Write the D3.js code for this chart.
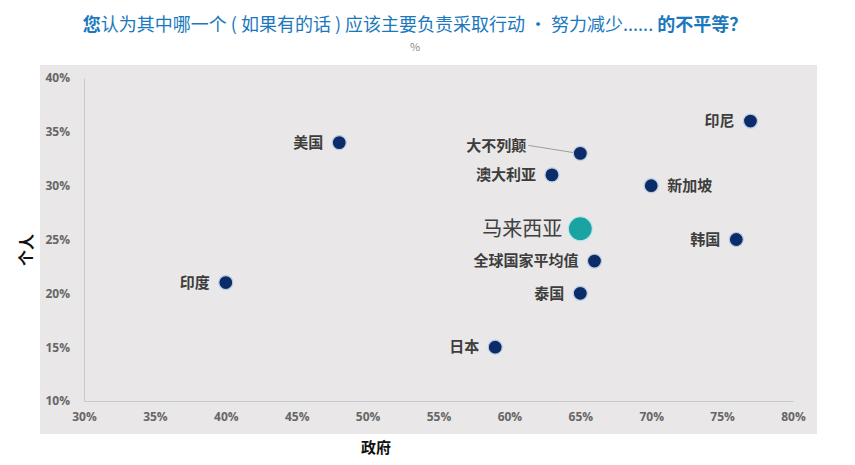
<!DOCTYPE html>
<html><head><meta charset="utf-8">
<script src="https://cdn.jsdelivr.net/npm/d3@7"></script>
<style>body{margin:0;background:#fff;}svg{display:block;font-family:"Noto Sans CJK SC","Noto Sans",sans-serif;}</style>
</head><body>
<script>
const countries = ["美国","印度","日本","泰国","全球国家平均值","马来西亚","澳大利亚","大不列颠","新加坡","印尼","韩国"];
const government = [48,40,59,65,66,65,63,65,70,77,76];
const individual = [34,21,15,20,23,26,31,33,30,36,25];
const highlight = "马来西亚";
const xTicks = [30,35,40,45,50,55,60,65,70,75,80];
const yTicks = [10,15,20,25,30,35,40];

const W=855,H=465;
const svg=d3.select("body").append("svg").attr("width",W).attr("height",H);
const m={l:84,r:62,t:78,b:64};
const x=d3.scaleLinear().domain([30,80]).range([m.l,W-m.r]);
const y=d3.scaleLinear().domain([10,40]).range([H-m.b,m.t]);

svg.append("rect").attr("x",40).attr("y",65).attr("width",777).attr("height",369).attr("fill","#e9e7e7");

const xa=svg.append("g").attr("transform",`translate(0,${y(10)})`).call(d3.axisBottom(x).tickValues(xTicks).tickFormat(d=>d+"%").tickSize(0).tickPadding(11));
const ya=svg.append("g").attr("transform",`translate(${x(30)},0)`).call(d3.axisLeft(y).tickValues(yTicks).tickFormat(d=>d+"%").tickSize(0).tickPadding(14));
[xa,ya].forEach(a=>{a.select(".domain").attr("stroke","#c9c9c9").attr("stroke-width",1);
 a.selectAll("text").attr("fill","#666").attr("font-size",12).attr("font-weight","bold").attr("font-family","'Open Sans',sans-serif");});

const data=countries.map((c,i)=>({c,gx:government[i],iy:individual[i]}));

const gb=data.find(d=>d.c==="大不列颠");
svg.append("line").attr("x1",x(gb.gx)-52).attr("y1",y(gb.iy)-8).attr("x2",x(gb.gx)-2).attr("y2",y(gb.iy)).attr("stroke","#8a8a8a").attr("stroke-width",0.8);

svg.selectAll("circle.pt").data(data).join("circle").attr("class","pt")
 .attr("cx",d=>x(d.gx)).attr("cy",d=>y(d.iy))
 .attr("r",d=>d.c===highlight?12:7)
 .attr("fill",d=>d.c===highlight?"#1aa3a1":"#0b2c68")
 .attr("stroke",d=>d.c===highlight?"#bfe6ea":"#b9cde6").attr("stroke-width",1.2);

svg.selectAll("text.lbl").data(data).join("text").attr("class","lbl")
 .attr("x",d=>{ if(d.c==="新加坡") return x(d.gx)+16; if(d.c==="大不列颠") return x(d.gx)-54; if(d.c===highlight) return x(d.gx)-18; return x(d.gx)-16;})
 .attr("y",d=> d.c==="大不列颠"? y(d.iy)-8 : y(d.iy))
 .attr("dy","0.35em")
 .attr("text-anchor",d=>d.c==="新加坡"?"start":"end")
 .attr("font-size",d=>d.c===highlight?20:15)
 .attr("font-weight",d=>d.c===highlight?"normal":"bold")
 .attr("fill",d=>d.c===highlight?"#404040":"#3d3d3d")
 .text(d=>d.c);

const t=svg.append("text").attr("x",415).attr("y",31).attr("text-anchor","middle").attr("font-size",18).attr("fill","#1a78bd");
t.append("tspan").attr("font-weight","bold").text("您");
t.append("tspan").text("认为其中哪一个 ( 如果有的话 ) 应该主要负责采取行动 · 努力减少......");
t.append("tspan").attr("font-weight","bold").text(" 的不平等？");
svg.append("text").attr("x",415).attr("y",51).attr("text-anchor","middle").attr("font-size",11).attr("fill","#8a8a8a").text("%");

svg.append("text").attr("x",376).attr("y",453).attr("text-anchor","middle").attr("font-size",15).attr("font-weight","bold").attr("fill","#111").text("政府");
svg.append("text").attr("transform","translate(32,250) rotate(-90)").attr("text-anchor","middle").attr("font-size",16).attr("font-weight","bold").attr("fill","#111").text("个人");
</script>
</body></html>
